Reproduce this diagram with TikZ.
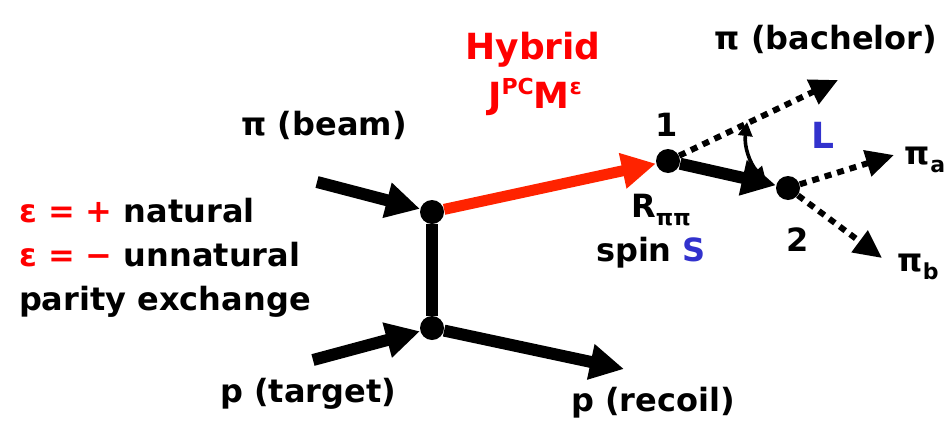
\documentclass[tikz,border=0pt]{standalone}
\usepackage{fontspec}
\setmainfont{DejaVu Sans}
\usetikzlibrary{arrows.meta}
\definecolor{hybred}{RGB}{255,35,0}
\definecolor{textred}{RGB}{255,0,0}
\definecolor{spinblue}{RGB}{50,50,205}
\newcommand{\lowidx}[1]{\raisebox{-0.45ex}{\fontsize{11}{11}\selectfont #1}}
\newcommand{\upidx}[1]{\raisebox{0.75ex}{\fontsize{11}{11}\selectfont #1}}

\begin{document}
\begin{tikzpicture}[
    x=0.5pt, y=-0.5pt,
    lbl/.style={font=\fontsize{16}{22}\selectfont\bfseries},
    vtx/.style={circle, fill=black, inner sep=0pt, minimum size=12pt},
    heavy/.style={line width=6pt, -{Triangle[length=17pt,width=17pt]}},
    dotline/.style={line width=3pt, dash pattern=on 3.5pt off 3pt, -{Triangle[length=14pt,width=13pt]}}
]
\useasboundingbox (0,0) rectangle (951,423);

% Vertices
\node[vtx] (top) at (432,212) {};
\node[vtx] (bot) at (432,328) {};
\node[vtx] (one) at (668,161) {};
\node[vtx] (two) at (788,188) {};

% Free ends
\coordinate (beamin) at (317,182);
\coordinate (targin) at (313,360);
\coordinate (recout) at (624,369);
\coordinate (bachout) at (838,80);
\coordinate (aout) at (894,155);
\coordinate (bout) at (882,258);
\coordinate (angtop) at (747,122);
\coordinate (angbot) at (766,181);

% Production
\draw[heavy] (beamin) -- (top);
\draw[heavy] (targin) -- (bot);
\draw[line width=6pt] (top) -- (bot);
\draw[heavy] (bot) -- (recout);
\draw[heavy, hybred, line width=5.5pt] (top) -- (one);

% Decay
\draw[heavy] (one) -- (two);
\draw[dotline] (one) -- (bachout);
\draw[dotline] (two) -- (aout);
\draw[dotline] (two) -- (bout);
\draw[line width=1.8pt, {Triangle[length=7pt,width=7pt]}-{Triangle[length=7pt,width=7pt]}] (angtop) to[bend right=25] (angbot);

% Labels
\node[lbl] (beam) at (324,125) {π (beam)};
\node[lbl] (target) at (308,394) {p (target)};
\node[lbl] (recoil) at (653,403) {p (recoil)};
\node[lbl] (bach) at (826,39) {π (bachelor)};
\node[lbl, textred, font=\fontsize{18}{22}\selectfont\bfseries] (hyb) at (533,50) {Hybrid};
\node[lbl, textred, font=\fontsize{18}{22}\selectfont\bfseries] (jpc) at (535,97) {J\upidx{PC}M\upidx{ε}};
\node[lbl] (lab1) at (667,125) {1};
\node[lbl] (lab2) at (798,240) {2};
\node[lbl, spinblue, font=\fontsize{18}{22}\selectfont\bfseries] (labL) at (823,135) {L};
\node[lbl] (rpp) at (661,210) {R\lowidx{ππ}};
\node[lbl] (spin) at (651,253) {spin \textcolor{spinblue}{S}};
\node[lbl] (pia) at (925,160) {π\lowidx{a}};
\node[lbl] (pib) at (918,267) {π\lowidx{b}};
\node[lbl, align=left, anchor=west] (parity) at (12,258) {
    \textcolor{textred}{ε = +} natural\\
    \textcolor{textred}{ε = −} unnatural\\
    parity exchange};

\end{tikzpicture}
\end{document}
